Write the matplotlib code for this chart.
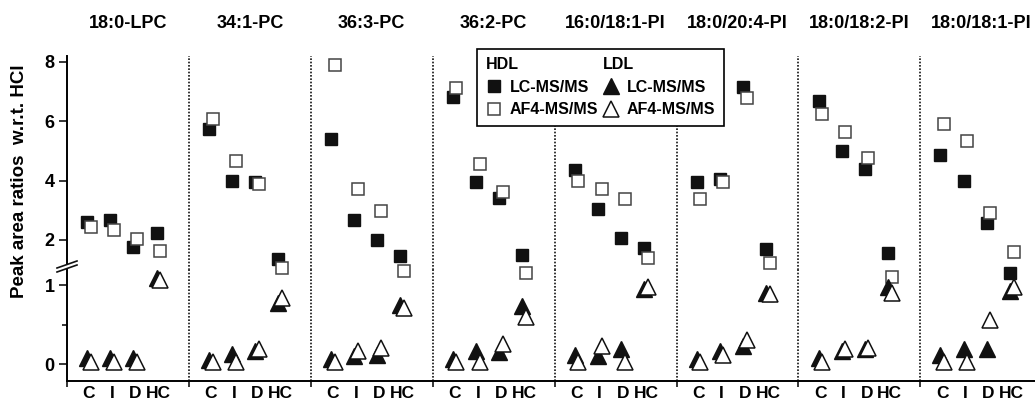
import numpy as np
import matplotlib
matplotlib.use('Agg')
import matplotlib.pyplot as plt
import matplotlib.transforms as mtrans
from matplotlib.lines import Line2D
from matplotlib.text import Text
from matplotlib.legend_handler import HandlerBase

plt.rcParams['font.family'] = ['Liberation Sans', 'DejaVu Sans']
plt.rcParams['font.weight'] = 'bold'

# --- data ---
lipids = ['18:0-LPC', '34:1-PC', '36:3-PC', '36:2-PC',
          '16:0/18:1-PI', '18:0/20:4-PI', '18:0/18:2-PI', '18:0/18:1-PI']
groups = ['C', 'I', 'D', 'HC']

# HDL, upper scale
hdl_lc = [[2.60, 2.67, 1.75, 2.23],
          [5.73, 4.00, 3.95, 1.36],
          [5.40, 2.67, 2.00, 1.47],
          [6.83, 3.97, 3.40, 1.50],
          [4.37, 3.03, 2.07, 1.73],
          [3.97, 4.07, 7.17, 1.70],
          [6.70, 5.00, 4.40, 1.57],
          [4.87, 4.00, 2.57, 0.90]]
hdl_af4 = [[2.43, 2.33, 2.03, 1.63],
           [6.07, 4.67, 3.88, 1.06],
           [7.90, 3.73, 2.97, 0.95],
           [7.13, 4.57, 3.60, 0.90],
           [4.00, 3.73, 3.37, 1.40],
           [3.37, 3.97, 6.77, 1.23],
           [6.23, 5.63, 4.77, 0.76],
           [5.90, 5.33, 2.90, 1.60]]
# LDL, lower scale
ldl_lc = [[0.07, 0.07, 0.07, 1.09],
          [0.05, 0.13, 0.16, 0.77],
          [0.06, 0.10, 0.12, 0.75],
          [0.06, 0.16, 0.15, 0.73],
          [0.11, 0.10, 0.19, 0.95],
          [0.06, 0.17, 0.23, 0.90],
          [0.08, 0.17, 0.19, 0.98],
          [0.11, 0.19, 0.19, 0.93]]
ldl_af4 = [[0.03, 0.03, 0.03, 1.06],
           [0.03, 0.03, 0.19, 0.83],
           [0.03, 0.17, 0.20, 0.71],
           [0.03, 0.03, 0.25, 0.60],
           [0.03, 0.23, 0.03, 0.97],
           [0.03, 0.12, 0.31, 0.88],
           [0.03, 0.19, 0.20, 0.90],
           [0.03, 0.03, 0.56, 0.97]]

# --- layout ---
W, H = 1035, 403
fig = plt.figure(figsize=(W / 100, H / 100), dpi=100)
left = 67 / W
ax_top = fig.add_axes([left, 1 - 264 / H, 1 - left, (264 - 56) / H])
ax_bot = fig.add_axes([left, 1 - 381 / H, 1 - left, (381 - 270) / H])

n = len(lipids)
slot = np.array([0.18, 0.37, 0.56, 0.75])
xs = (np.arange(n)[:, None] + slot[None, :]).ravel()
d = 0.015
xmax = (W - 67) / 121.9

black = '#111111'
ax_top.plot(xs - d, np.ravel(hdl_lc), 's', ms=8.8, mfc=black, mec=black,
            mew=1.0, clip_on=False, zorder=3)
ax_top.plot(xs + d, np.ravel(hdl_af4), 's', ms=8.8, mfc='white', mec='#444444',
            mew=1.1, clip_on=False, zorder=4)
ax_bot.plot(xs - d, np.ravel(ldl_lc), '^', ms=11, mfc=black, mec=black,
            mew=1.0, clip_on=False, zorder=3)
ax_bot.plot(xs + d, np.ravel(ldl_af4), '^', ms=11, mfc='white', mec=black,
            mew=1.1, clip_on=False, zorder=4)

ax_top.set_xlim(0, xmax)
ax_bot.set_xlim(0, xmax)
ax_top.set_ylim(1.19, 8.2)
ax_bot.set_ylim(-0.215, 1.19)

for ax in (ax_top, ax_bot):
    for s in ('top', 'right'):
        ax.spines[s].set_visible(False)
    for s in ('left', 'bottom'):
        ax.spines[s].set_linewidth(1.4)
    ax.patch.set_alpha(0)
ax_top.spines['bottom'].set_visible(False)

ax_top.set_yticks([2, 4, 6, 8])
ax_top.set_xticks([])
ax_bot.set_yticks([0, 1])
ax_bot.set_yticks([0.5], minor=True)
ax_bot.set_xticks(np.arange(n))
ax_bot.set_xticklabels([])
ax_bot.set_xticks(xs, minor=True)
ax_bot.set_xticklabels(groups * n, minor=True)

for ax in (ax_top, ax_bot):
    ax.tick_params(axis='y', which='major', direction='out', length=6, width=1.1,
                   pad=3, labelsize=13)
    ax.tick_params(axis='y', which='minor', direction='out', length=3.5, width=1.1)
ax_bot.tick_params(axis='x', which='major', direction='out', length=4.5, width=1.1)
ax_bot.tick_params(axis='x', which='minor', length=0, pad=3.5, labelsize=12.5)

# dotted panel dividers
for k in range(1, n):
    ax_top.axvline(k, ymin=-6 / 208, ymax=1, color=black, lw=1.2,
                   ls=(0, (1, 1)), clip_on=False, zorder=1)
    ax_bot.axvline(k, color=black, lw=1.2, ls=(0, (1, 1)), zorder=1)

# panel titles
tt = mtrans.blended_transform_factory(ax_top.transData, fig.transFigure)
for i, name in enumerate(lipids):
    ax_top.text(i + 0.5, 1 - 23 / H, name, transform=tt, ha='center',
                va='center', fontsize=13)

# axis break marks
for y0 in (268, 272):
    fig.add_artist(Line2D([57 / W, 77 / W], [1 - y0 / H, 1 - (y0 - 7) / H],
                          color=black, lw=1.2, transform=fig.transFigure))

fig.text(20 / W, 1 - 181 / H, 'Peak area ratios  w.r.t. HCl', rotation=90,
         ha='center', va='center', fontsize=13.5)


# legend with group headers
class Header:
    def __init__(self, text):
        self.text = text


class HeaderHandler(HandlerBase):
    def create_artists(self, legend, orig_handle, xdescent, ydescent, width,
                       height, fontsize, trans):
        t = Text(-xdescent, -ydescent + height / 2, orig_handle.text,
                 ha='left', va='center', fontsize=fontsize, fontweight='bold')
        t.set_transform(trans)
        return [t]


handles = [Header('HDL'),
           Line2D([], [], ls='none', marker='s', ms=8.8, mfc=black, mec=black),
           Line2D([], [], ls='none', marker='s', ms=8.8, mfc='white',
                  mec='#444444', mew=1.1),
           Header('LDL'),
           Line2D([], [], ls='none', marker='^', ms=11, mfc=black, mec=black),
           Line2D([], [], ls='none', marker='^', ms=11, mfc='white', mec=black,
                  mew=1.1)]
labels = ['', 'LC-MS/MS', 'AF4-MS/MS', '', 'LC-MS/MS', 'AF4-MS/MS']
leg = ax_top.legend(handles, labels, handler_map={Header: HeaderHandler()},
                    ncol=2, loc='upper left', bbox_to_anchor=(477 / W, 1 - 49 / H),
                    bbox_transform=fig.transFigure, borderaxespad=0,
                    fontsize=11.5, handlelength=1.0, handletextpad=0.5,
                    columnspacing=0.3, labelspacing=0.45, borderpad=0.55,
                    fancybox=False, framealpha=1, edgecolor='black')
leg.get_frame().set_linewidth(1.2)
leg.set_zorder(10)

fig.savefig('out.png', dpi=100)
